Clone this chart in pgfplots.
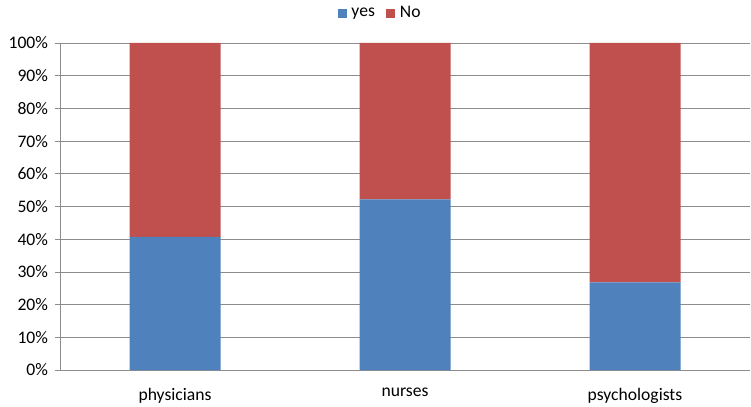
\documentclass[border=0pt]{standalone}
\usepackage{pgfplots}
\pgfplotsset{compat=1.18}
\usepackage{fontspec}
\setmainfont{Carlito}
\definecolor{cyes}{HTML}{4F81BD}
\definecolor{cno}{HTML}{C0504D}
\definecolor{cgrid}{HTML}{8C8C8C}
\begin{document}
\fontsize{17.6bp}{21bp}\selectfont
\begin{tikzpicture}[x=1bp,y=1bp]
\begin{axis}[
  at={(0,0)}, anchor=south west,
  width=690bp, height=327bp, scale only axis,
  ybar stacked, bar width=91bp,
  xmin=-0.5, xmax=2.5, ymin=0, ymax=100,
  xtick={0,1,2}, xticklabels={physicians,nurses,psychologists},
  extra x ticks={-0.5,0.5,1.5,2.5}, extra x tick labels={},
  extra x tick style={major tick length=7bp, tick style={cgrid, line width=0.8bp}},
  ytick={0,10,...,100},
  yticklabel={\pgfmathprintnumber{\tick}\%},
  /pgf/number format/assume math mode=true,
  axis x line*=bottom, axis y line*=left,
  axis line style={cgrid, line width=0.8bp, -},
  tick align=outside,
  major tick length=5bp,
  tick style={cgrid, line width=0.8bp},
  x tick style={draw=none},
  ymajorgrids, major grid style={cgrid, line width=0.8bp},
  xticklabel style={yshift=-7bp},
  yticklabel style={xshift=-1bp},
  legend style={at={(0.5,1)}, anchor=south, xshift=-25bp, yshift=21bp, draw=none, fill=none,
    legend columns=2, inner sep=0pt, column sep=3bp,
    nodes={inner sep=1.5bp},
    /tikz/every even column/.append style={column sep=10bp}},
  legend image code/.code={\fill[#1] (0bp,-4.5bp) rectangle (9bp,4.5bp);},
]
\addplot[fill=cyes, draw=none] coordinates {(0,40.7) (1,52.2) (2,26.8)};
\addplot[fill=cno, draw=none] coordinates {(0,59.3) (1,47.8) (2,73.2)};
\legend{yes,No}
\end{axis}
\pgfresetboundingbox
\path (-60,-36) rectangle (691,370);
\end{tikzpicture}
\end{document}
